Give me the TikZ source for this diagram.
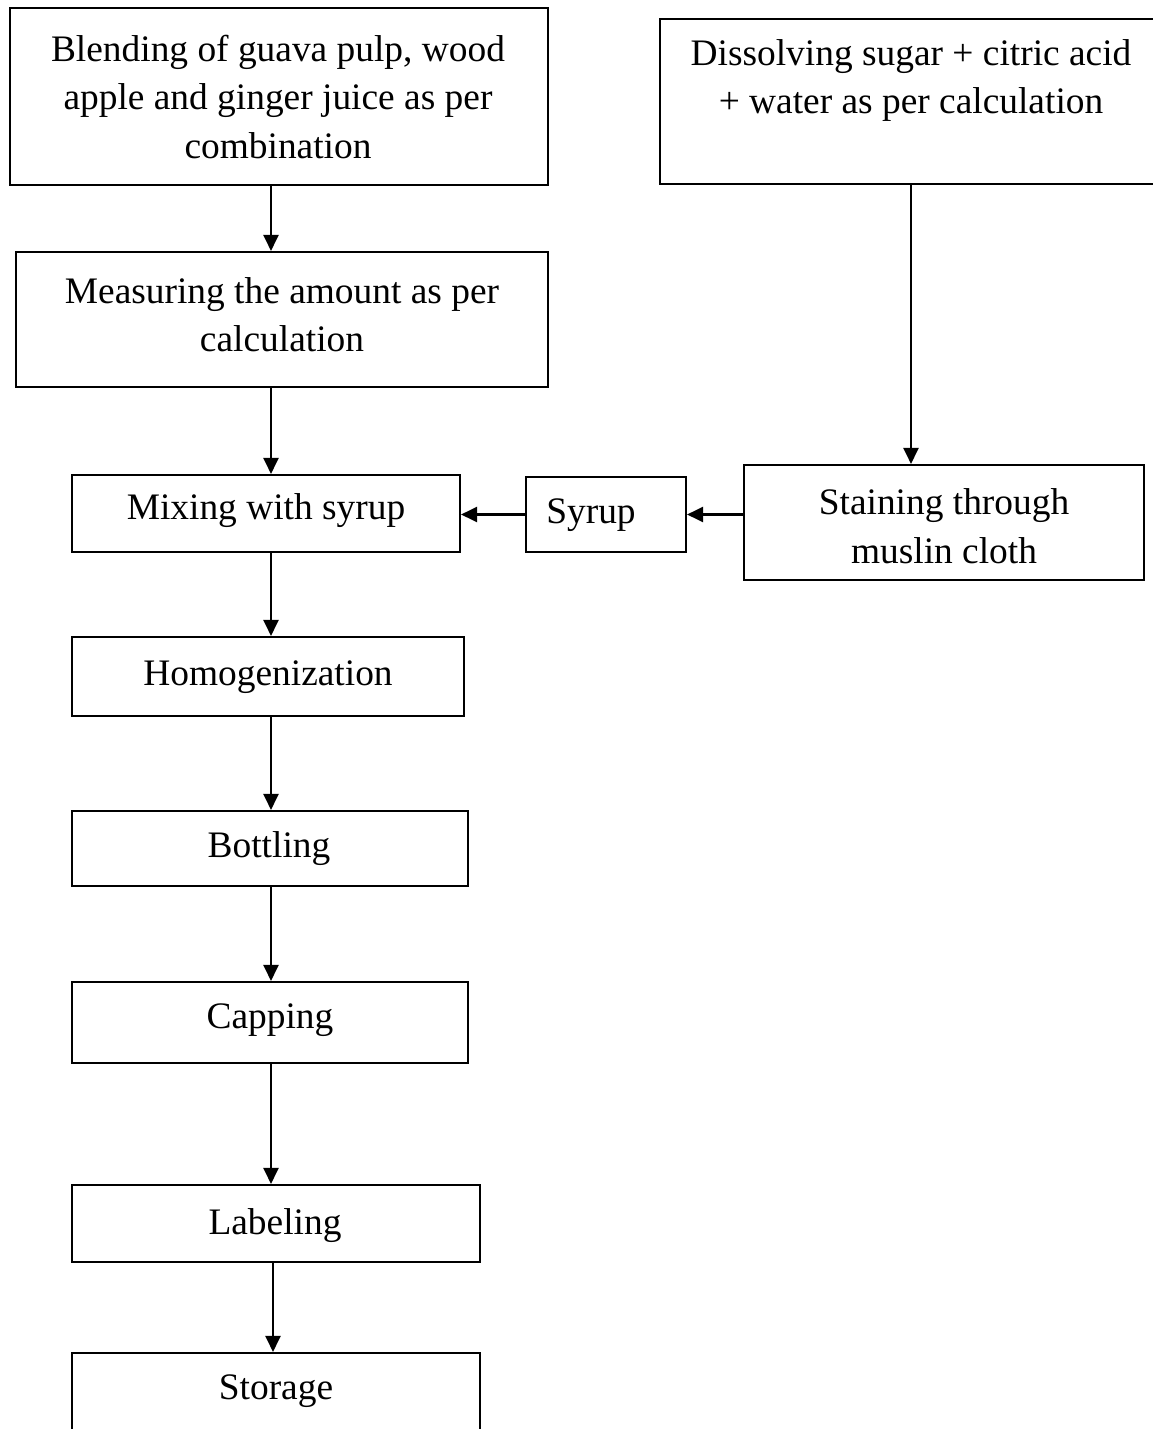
\documentclass[tikz,border=0pt]{standalone}
\usepackage{fontspec}
\setmainfont{Liberation Serif}
\usetikzlibrary{arrows.meta}
\begin{document}
\begin{tikzpicture}[x=1pt,y=-1pt,
  box/.style={draw, line width=2.1pt, inner sep=0pt, minimum width=#1},
  txt/.style={inner sep=0pt, align=center, font=\fontsize{37.4}{48.5}\selectfont},
  arr/.style={line width=2.1pt, -{Triangle[length=16pt,width=15pt]}}]
\useasboundingbox (0,0) rectangle (1152,1429);
% boxes
\node[box=538, minimum height=177] (b1) at (279,96.5) {};
\node[box=500, minimum height=165] (b2) at (910,101.5) {};
\node[box=532, minimum height=135] (b3) at (282,319.5) {};
\node[box=388, minimum height=77] (mix) at (266,513.5) {};
\node[box=160, minimum height=75] (syr) at (606,514.5) {};
\node[box=400, minimum height=115] (stn) at (944,522.5) {};
\node[box=392, minimum height=79] (hom) at (268,676.5) {};
\node[box=396, minimum height=75] (bot) at (270,848.5) {};
\node[box=396, minimum height=81] (cap) at (270,1022.5) {};
\node[box=408, minimum height=77] (lab) at (276,1223.5) {};
\node[box=408, minimum height=107] (sto) at (276,1406.5) {};
% texts
\node[txt] (t1) at (278,97) {Blending of guava pulp, wood\\apple and ginger juice as per\\combination};
\node[txt] (t2) at (911,80.5) {Dissolving sugar + citric acid\\+ water as per calculation};
\node[txt] (t3) at (282,314.5) {Measuring the amount as per\\calculation};
\node[txt, anchor=base] (t4) at (266,519) {Mixing with syrup};
\node[txt, anchor=base] (t5) at (591,523) {Syrup};
\node[txt] (t6) at (944,526) {Staining through\\muslin cloth};
\node[txt, anchor=base] (t7) at (268,685) {Homogenization};
\node[txt, anchor=base] (t8) at (269,857) {Bottling};
\node[txt, anchor=base] (t9) at (270,1028) {Capping};
\node[txt, anchor=base] (t10) at (275,1234) {Labeling};
\node[txt, anchor=base] (t11) at (276,1399) {Storage};
% columns
\coordinate (cA) at (271,0);
\coordinate (cB) at (273,0);
\coordinate (cC) at (911,0);
% connectors
\draw[arr] (b1.south -| cA) -- (b3.north -| cA);
\draw[arr] (b3.south -| cA) -- (mix.north -| cA);
\draw[arr] (b2.south -| cC) -- (stn.north -| cC);
\draw[arr] (stn.west |- syr.east) -- (syr.east);
\draw[arr] (syr.west) -- (mix.east |- syr.west);
\draw[arr] (mix.south -| cA) -- (hom.north -| cA);
\draw[arr] (hom.south -| cA) -- (bot.north -| cA);
\draw[arr] (bot.south -| cA) -- (cap.north -| cA);
\draw[arr] (cap.south -| cA) -- (lab.north -| cA);
\draw[arr] (lab.south -| cB) -- (sto.north -| cB);
\end{tikzpicture}
\end{document}
